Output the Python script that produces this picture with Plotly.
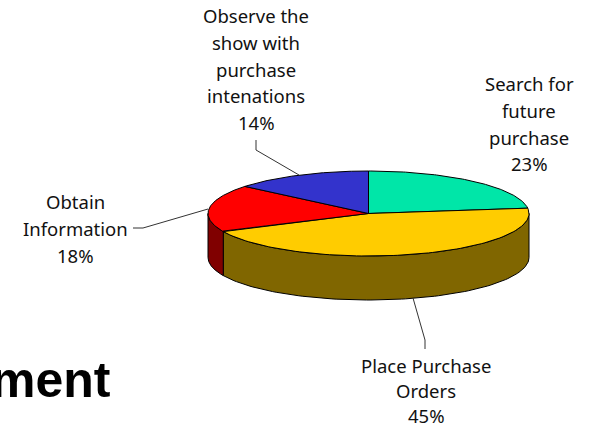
import numpy as np
import plotly.graph_objects as go

categories = ["Search for future purchase", "Place Purchase Orders", "Obtain Information", "Observe the show with purchase intenations"]
values = [23, 45, 18, 14]
label_lines = [["Search for", "future", "purchase"], ["Place Purchase", "Orders"], ["Obtain", "Information"],
               ["Observe the", "show with", "purchase", "intenations"]]
top_colors = ["#00E6A8", "#FFCC00", "#FF0000", "#3333CC"]
side_colors = ["#007354", "#806600", "#800000", "#19197F"]
label_pos = [(529, 83.5), (426, 365.5), (75, 201.5), (256, 15.5)]
label_line_h = [26.8, 25, 26.8, 26.8]
leaders = [None, ([413, 425, 425], [298, 340, 349]), ([133, 143, 208], [228, 228, 209]), ([256, 256, 299], [140, 150, 175])]
cropped_title = "ment"

W, H = 589, 427
CX, CY, RX, RY, DEPTH = 368.5, 213.5, 160.5, 42.5, 44
FONT = "Noto Sans"


def ell(theta, dy=0.0):
    return CX + RX * np.sin(theta), CY - RY * np.cos(theta) + dy


fig = go.Figure()
edges = np.concatenate([[0], np.cumsum(values)]) * 2 * np.pi / sum(values)

# side walls
for i in range(len(values)):
    a, b = max(edges[i], np.pi / 2), min(edges[i + 1], 3 * np.pi / 2)
    if a >= b:
        continue
    t = np.linspace(a, b, 100)
    x1, y1 = ell(t)
    x2, y2 = ell(t[::-1], DEPTH)
    fig.add_trace(go.Scatter(x=np.r_[x1, x2, x1[0]], y=np.r_[y1, y2, y1[0]], mode="lines", fill="toself",
                             fillcolor=side_colors[i], line=dict(color="#000", width=1), hoverinfo="skip"))
# top faces
for i in range(len(values)):
    t = np.linspace(edges[i], edges[i + 1], 100)
    x1, y1 = ell(t)
    fig.add_trace(go.Scatter(x=np.r_[CX, x1, CX], y=np.r_[CY, y1, CY], mode="lines", fill="toself",
                             fillcolor=top_colors[i], line=dict(color="#000", width=1),
                             name=categories[i], hoverinfo="name"))
# leaders
for lead in leaders:
    if lead:
        fig.add_trace(go.Scatter(x=lead[0], y=lead[1], mode="lines", line=dict(color="#333", width=1), hoverinfo="skip"))

ann = []
for (x, y), lh, lines, v in zip(label_pos, label_line_h, label_lines, values):
    for k, s in enumerate(lines + [f"{v}%"]):
        ann.append(dict(x=x, y=y + k * lh, text=s, showarrow=False, xanchor="center", yanchor="middle",
                        font=dict(family=FONT, size=18.5, color="#111")))
ann.append(dict(x=0, y=379.5, xshift=-11, text=f"<b>{cropped_title}</b>", showarrow=False, xanchor="left", yanchor="middle",
                font=dict(family="Liberation Sans", size=50, color="#000")))

fig.update_layout(width=W, height=H, margin=dict(l=0, r=0, t=0, b=0), showlegend=False,
                  paper_bgcolor="#fff", plot_bgcolor="#fff", annotations=ann,
                  xaxis=dict(range=[0, W], visible=False, fixedrange=True),
                  yaxis=dict(range=[H, 0], visible=False, fixedrange=True))
fig.write_html("out.html", config={"displayModeBar": False},
               post_script="document.body.style.margin='0';document.body.style.overflow='hidden';")
